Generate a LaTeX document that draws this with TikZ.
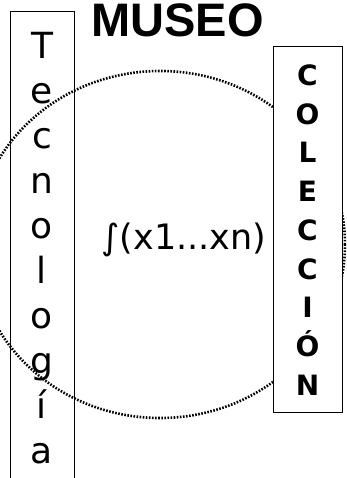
\documentclass[tikz,border=0pt]{standalone}
\usepackage{fontspec}
\newfontfamily\dejavu{DejaVu Sans}
\newfontfamily\liberation{Liberation Sans}
\usetikzlibrary{positioning}

\begin{document}
\begin{tikzpicture}[
            x=1pt, y=-1pt,
            every node/.style={align=center, inner sep=0pt},
            boxframe/.style={draw, line width=1.3pt, rectangle, anchor=north west},
            ringline/.style={line width=2.6pt, dash pattern=on 1.6pt off 1.5pt}
        ]

        % Page size in pixels of the reference
        \def\pw{346}
        \def\ph{478}
        \useasboundingbox (0,0) rectangle (\pw,\ph);
        \clip (0,0) rectangle (\pw,\ph);

        % Ring geometry
        \def\cx{160}
        \def\cy{244.5}

        % --- Left column: Tecnologia (open at the bottom) ---
        \node[boxframe, minimum width=64pt, minimum height=490pt] (tecnobox) at (10,11) {};
        \node[anchor=north, font=\dejavu\fontsize{36}{45}\selectfont] (tecnotext) at (42,31.8)
            {T\\e\\c\\n\\o\\l\\o\\g\\í\\a};

        % --- Dotted ring ---
        \draw[ringline] (\cx,\cy) ellipse [x radius=185pt, y radius=173.5pt];

        % --- Right column: Coleccion ---
        \node[boxframe, fill=white, minimum width=69pt, minimum height=366pt] (colbox) at (273,46) {};
        \node[anchor=north, font=\dejavu\bfseries\fontsize{28}{38.75}\selectfont] (coltext) at (307.5,64.5)
            {C\\O\\L\\E\\C\\C\\I\\Ó\\N};

        % --- Title and formula ---
        \node[anchor=base, font=\liberation\bfseries\fontsize{47}{50}\selectfont] (title) at (177.5,37) {MUSEO};
        \node[anchor=base, font=\dejavu\fontsize{35}{38}\selectfont] (formula) at (184,249) {∫(x1...xn)};

        \end{tikzpicture}
\end{document}
